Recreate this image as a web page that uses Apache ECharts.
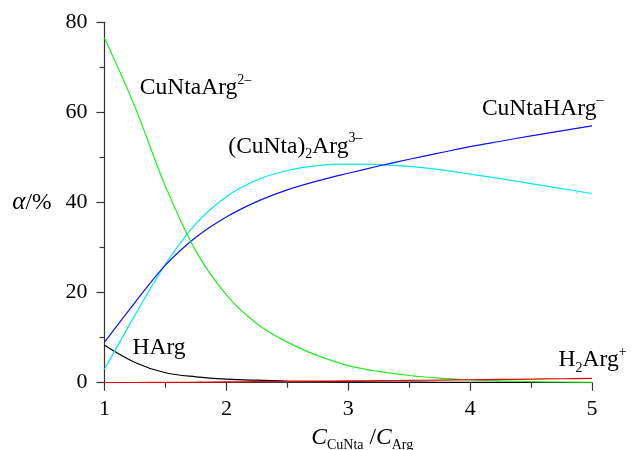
<!DOCTYPE html>
<html>
<head>
<meta charset="utf-8">
<script src="https://cdn.jsdelivr.net/npm/echarts@6/dist/echarts.min.js"></script>
<style>
  html, body { margin: 0; padding: 0; background: #fff; }
  #chart { width: 632px; height: 450px; }
</style>
</head>
<body>
<div id="chart"></div>
<script>
// C(CuNta)/C(Arg) ratio
const ratio = [1, 1.25, 1.5, 1.75, 2, 2.25, 2.5, 2.75, 3, 3.25, 3.5, 3.75, 4, 4.25, 4.5, 4.75, 5]

// distribution, %
const cuNtaArg  = [76.5, 61.2, 43.6, 29.2, 19.5, 13.1, 9.0, 6.0, 3.8, 2.5, 1.6, 1.0, 0.6, 0.4, 0.25, 0.15, 0.1]
const cuNtaHArg = [9.0, 17.8, 26.1, 32.3, 36.8, 40.2, 42.8, 44.8, 46.5, 48.1, 49.6, 51.0, 52.4, 53.6, 54.8, 55.9, 57.0]
const cuNta2Arg = [3.0, 15.0, 26.3, 35.3, 41.3, 45.0, 47.1, 48.2, 48.5, 48.4, 48.0, 47.3, 46.3, 45.3, 44.2, 43.1, 42.0]
const hArg      = [8.3, 4.5, 2.2, 1.3, 0.8, 0.55, 0.38, 0.27, 0.2, 0.15, 0.12, 0.1, 0.08, 0.06, 0.05, 0.04, 0.03]
const h2Arg     = [0, 0.04, 0.08, 0.12, 0.17, 0.22, 0.28, 0.34, 0.4, 0.46, 0.52, 0.58, 0.65, 0.72, 0.8, 0.88, 0.95]

const xTicks = [1, 2, 3, 4, 5]
const yTicks = [0, 20, 40, 60, 80]

// curve labels: [x, y, rich text]
const curveLabels = [
  [1.29, 65.4, '{n|CuNtaArg}{sup|2–}'],
  [2.016, 52.4, '{n|(CuNta)}{sub|2}{n|Arg}{sup|3–}'],
  [4.097, 60.9, '{n|CuNtaHArg}{sup|–}'],
  [1.23, 7.8, '{n|HArg}'],
  [4.726, 5.0, '{n|H}{sub|2}{n|Arg}{sup|+}']
]

const FONT = 'Liberation Serif'
const richStyles = {
  n: { fontFamily: FONT, fontSize: 23.5, lineHeight: 30, color: '#000', verticalAlign: 'middle' },
  sup: { fontFamily: FONT, fontSize: 14, lineHeight: 16, color: '#000', verticalAlign: 'top' },
  sub: { fontFamily: FONT, fontSize: 14, lineHeight: 14, color: '#000', verticalAlign: 'bottom' },
  i: { fontFamily: FONT, fontSize: 23.5, lineHeight: 30, fontStyle: 'italic', color: '#000', verticalAlign: 'middle' }
}

const chart = echarts.init(document.getElementById('chart'))

function pairs(ys) {
  return ratio.map((x, i) => [x, ys[i]])
}

function lineSeries(name, ys, color) {
  return {
    name: name,
    type: 'line',
    data: pairs(ys),
    showSymbol: false,
    smooth: 0.35,
    lineStyle: { color: color, width: 1.2 },
    itemStyle: { color: color },
    silent: true
  }
}

const axisLineStyle = { color: '#333', width: 1.2 }

chart.setOption({
  animation: false,
  backgroundColor: '#fff',
  grid: { left: 104.5, right: 40, top: 22.3, bottom: 67.3, containLabel: false, outerBoundsMode: 'none' },
  xAxis: {
    type: 'value',
    min: 1,
    max: 5,
    interval: 1,
    name: '{i|C}{sub|CuNta}{n| /}{i|C}{sub|Arg}',
    nameLocation: 'middle',
    nameGap: 32,
    nameTextStyle: { rich: richStyles, padding: [0, 0, 0, 28] },
    axisLine: { show: true, lineStyle: axisLineStyle },
    axisTick: { show: true, length: 8, lineStyle: axisLineStyle },
    minorTick: { show: true, splitNumber: 2, length: 5, lineStyle: axisLineStyle },
    splitLine: { show: false },
    axisLabel: {
      fontFamily: FONT, fontSize: 22, color: '#000', margin: 16,
      formatter: v => xTicks.includes(v) ? String(v) : ''
    }
  },
  yAxis: {
    type: 'value',
    min: 0,
    max: 80,
    interval: 20,
    name: '{a|α}{n|/%}',
    nameLocation: 'middle',
    nameRotate: 0,
    nameGap: 53,
    nameTextStyle: {
      rich: Object.assign({}, richStyles, {
        a: { fontFamily: FONT, fontSize: 25, lineHeight: 30, fontStyle: 'italic', color: '#000' }
      })
    },
    axisLine: { show: true, lineStyle: axisLineStyle },
    axisTick: { show: true, length: 8, lineStyle: axisLineStyle },
    minorTick: { show: true, splitNumber: 2, length: 5, lineStyle: axisLineStyle },
    splitLine: { show: false },
    axisLabel: {
      fontFamily: FONT, fontSize: 22, color: '#000', margin: 17,
      formatter: v => yTicks.includes(v) ? String(v) : ''
    }
  },
  series: [
    lineSeries('HArg', hArg, '#000000'),
    lineSeries('(CuNta)2Arg3-', cuNta2Arg, '#00e8ee'),
    lineSeries('CuNtaHArg-', cuNtaHArg, '#1010ee'),
    lineSeries('CuNtaArg2-', cuNtaArg, '#22ee22'),
    lineSeries('H2Arg+', h2Arg, '#ee0000')
  ]
})

chart.setOption({
  graphic: curveLabels.map(([x, y, txt]) => {
    const p = chart.convertToPixel({ gridIndex: 0 }, [x, y])
    return {
      type: 'text',
      x: p[0],
      y: p[1],
      silent: true,
      style: {
        text: txt,
        rich: richStyles,
        align: 'left',
        verticalAlign: 'middle'
      }
    }
  })
})
</script>
</body>
</html>
